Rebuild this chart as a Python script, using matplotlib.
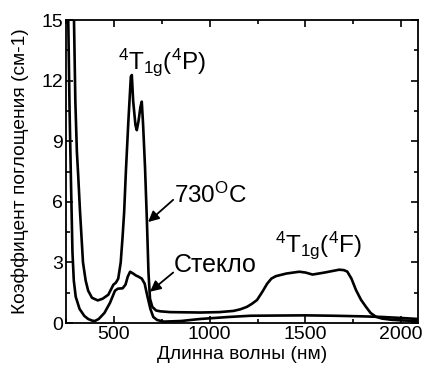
import matplotlib
matplotlib.use('Agg')
import matplotlib.pyplot as plt
from matplotlib.ticker import MultipleLocator

plt.rcParams['font.family'] = ['Liberation Sans', 'DejaVu Sans']
plt.rcParams['mathtext.fontset'] = 'custom'
plt.rcParams['mathtext.rm'] = 'Liberation Sans'
plt.rcParams['mathtext.it'] = 'Liberation Sans'
plt.rcParams['mathtext.default'] = 'regular'

# спектр образца 730 C
wl_730 = [285, 291, 298, 306, 313, 322, 338, 352, 365, 385, 415, 440, 470, 497, 510,
          522, 535, 545, 553, 562, 575, 588, 593, 600, 612, 619, 628, 638, 645, 652,
          662, 672, 680, 688, 700, 720, 741, 793, 950, 1050, 1124, 1160, 1194, 1220,
          1247, 1275, 1300, 1322, 1345, 1400, 1467, 1500, 1537, 1600, 1676, 1700, 1718,
          1740, 1764, 1790, 1816, 1840, 1868, 1900, 1950, 2000, 2088]
k_730 = [17, 15, 11, 8.5, 7.3, 5.6, 3.0, 2.1, 1.6, 1.25, 1.12, 1.2, 1.4, 1.9, 2.0,
         2.2, 3.0, 4.3, 5.5, 7.5, 10.0, 12.2, 12.28, 11.0, 9.8, 9.55, 10.0, 10.7, 10.96, 9.8,
         7.7, 5.0, 2.5, 1.2, 0.8, 0.62, 0.58, 0.54, 0.52, 0.54, 0.6, 0.68, 0.8, 0.95,
         1.14, 1.55, 1.95, 2.2, 2.32, 2.45, 2.54, 2.5, 2.4, 2.5, 2.64, 2.62, 2.55,
         2.2, 1.63, 1.15, 0.8, 0.5, 0.31, 0.22, 0.16, 0.13, 0.1]

# спектр стекла
wl_glass = [255, 261, 268, 275, 283, 290, 300, 320, 345, 365, 385, 400, 420, 450, 479,
            505, 520, 545, 560, 572, 584, 600, 615, 627, 645, 660, 675, 690, 705, 725,
            760, 850, 950, 1100, 1212, 1350, 1500, 1650, 1800, 1900, 2000, 2088]
k_glass = [20, 15, 10.5, 7.1, 3.5, 2.1, 1.3, 0.7, 0.35, 0.2, 0.12, 0.1, 0.2, 0.5, 1.0,
           1.6, 1.7, 1.72, 1.9, 2.3, 2.54, 2.45, 2.35, 2.3, 2.2, 1.95, 1.3, 0.7, 0.3, 0.15,
           0.07, 0.1, 0.2, 0.3, 0.36, 0.37, 0.38, 0.36, 0.33, 0.3, 0.25, 0.2]

fig = plt.figure(figsize=(4.24, 3.65), dpi=100)
ax = fig.add_axes([0.156, 0.115, 0.83, 0.83])

ax.plot(wl_glass, k_glass, color='k', lw=1.9)
ax.plot(wl_730, k_730, color='k', lw=1.9)

ax.set_xlim(250, 2088)
ax.set_ylim(0, 15)
ax.xaxis.set_major_locator(MultipleLocator(500))
ax.xaxis.set_minor_locator(MultipleLocator(250))
ax.yaxis.set_major_locator(MultipleLocator(3))
ax.yaxis.set_minor_locator(MultipleLocator(1.5))
ax.tick_params(which='both', direction='in', top=True, right=True, labelsize=14, pad=2)
ax.tick_params(which='major', length=5, width=1.2)
ax.tick_params(which='minor', length=3, width=1.2)
for s in ax.spines.values():
    s.set_linewidth(1.3)

ax.set_xlabel('Длинна волны (нм)', fontsize=13.8, labelpad=2)
ax.set_ylabel('Коэффицент поглощения (см-1)', fontsize=13.8, labelpad=9)

# подписи полос
ax.text(521, 12.6, r'$^4$T$_{1g}$($^4$P)', fontsize=17.5)
ax.text(1343, 3.5, r'$^4$T$_{1g}$($^4$F)', fontsize=17.5)
ax.text(814, 5.94, r'730$^{O}$C', fontsize=17.5)
ax.text(814, 2.52, 'Стекло', fontsize=18)

arr = dict(arrowstyle='-|>', color='k', lw=1.3, mutation_scale=16, shrinkA=0, shrinkB=0)
ax.annotate('', xy=(678, 5.0), xytext=(809, 6.1), arrowprops=arr)
ax.annotate('', xy=(688, 1.55), xytext=(809, 2.5), arrowprops=arr)

plt.savefig('out.png', dpi=100)
